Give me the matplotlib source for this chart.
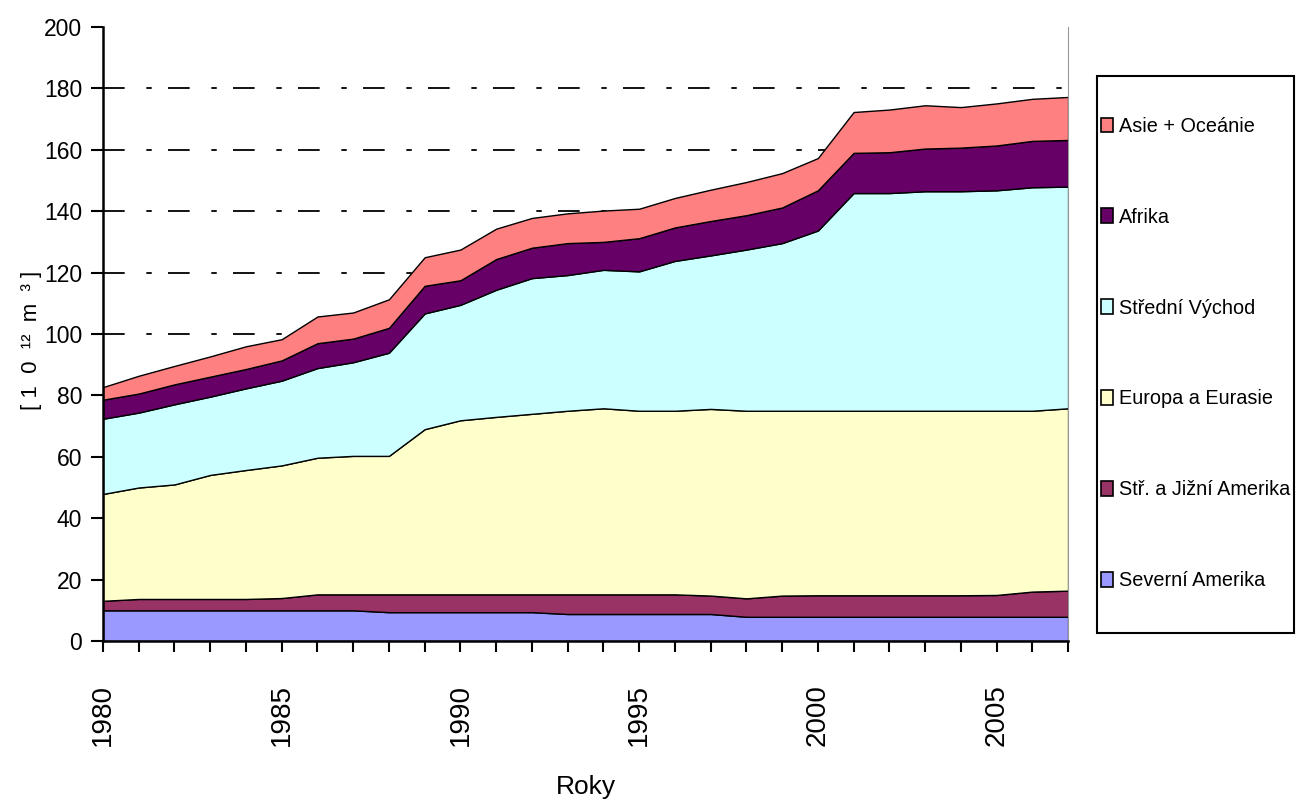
import numpy as np
import matplotlib
matplotlib.use('Agg')
import matplotlib.pyplot as plt
from matplotlib.patches import Patch, Rectangle
from matplotlib.transforms import ScaledTranslation

plt.rcParams['font.family'] = ['Liberation Sans', 'DejaVu Sans']

years = list(range(1980, 2008))

# hodnoty [10^12 m^3]
severni_amerika = [10.0, 10.0, 10.0, 10.0, 10.0, 10.0, 10.0, 10.0, 9.4, 9.4,
                   9.4, 9.4, 9.4, 8.8, 8.8, 8.8, 8.8, 8.8, 7.9, 7.9,
                   7.9, 7.9, 7.9, 7.9, 7.9, 7.9, 7.9, 7.9]
jizni_amerika = [3.1, 3.7, 3.7, 3.7, 3.7, 4.0, 5.2, 5.2, 5.8, 5.8,
                 5.8, 5.8, 5.8, 6.4, 6.4, 6.4, 6.4, 6.0, 6.0, 6.9,
                 7.0, 7.0, 7.0, 7.0, 7.0, 7.1, 8.2, 8.5]
europa = [34.8, 36.3, 37.3, 40.4, 42.0, 43.2, 44.5, 45.1, 45.1, 53.8,
          56.7, 57.8, 58.8, 59.8, 60.6, 59.8, 59.8, 60.8, 61.1, 60.2,
          60.1, 60.1, 60.1, 60.1, 60.1, 60.0, 58.9, 59.4]
stredni_vychod = [24.5, 24.4, 26.1, 25.5, 26.6, 27.6, 29.2, 30.5, 33.6, 37.7,
                  37.6, 41.4, 44.2, 44.2, 45.1, 45.4, 48.8, 50.0, 52.5, 54.6,
                  58.7, 70.9, 70.9, 71.5, 71.5, 71.8, 72.8, 72.2]
afrika = [6.2, 6.2, 6.5, 6.5, 6.3, 6.6, 8.1, 7.7, 8.1, 9.0,
          8.0, 10.0, 9.9, 10.4, 9.1, 10.8, 10.9, 11.2, 11.2, 11.6,
          13.1, 13.1, 13.3, 13.9, 14.2, 14.6, 15.1, 15.2]
asie = [4.1, 5.8, 6.0, 6.6, 7.4, 6.9, 8.7, 8.5, 9.3, 9.3,
        10.0, 9.9, 9.7, 9.7, 10.2, 9.6, 9.6, 10.2, 10.8, 11.2,
        10.5, 13.3, 13.9, 14.1, 13.2, 13.7, 13.7, 14.0]

labels = ['Severní Amerika', 'Stř. a Jižní Amerika', 'Europa a Eurasie',
          'Střední Východ', 'Afrika', 'Asie + Oceánie']
colors = ['#9999FF', '#993366', '#FFFFCC', '#CCFFFF', '#660066', '#FF8080']

fig = plt.figure(figsize=(12.97, 8.05), dpi=100)
ax = fig.add_axes([0.0794, 0.2037, 0.7441, 0.7628])

ax.stackplot(years, severni_amerika, jizni_amerika, europa, stredni_vychod,
             afrika, asie, colors=colors, edgecolor='black', linewidth=1.0)

ax.set_xlim(1980, 2007)
ax.set_ylim(0, 200)
ax.set_yticks(range(0, 201, 20))
ax.set_xticks(years)
ax.set_xticklabels([str(y) if y % 5 == 0 else '' for y in years],
                   rotation=90, fontsize=20)
for lab in ax.get_xticklabels():
    lab.set_transform(lab.get_transform() + ScaledTranslation(0.09, 0, fig.dpi_scale_trans))
ax.tick_params(axis='y', labelsize=16.5, length=9, width=1.5, direction='out', pad=6)
ax.tick_params(axis='x', length=8, width=1.5, direction='out', pad=23)

ax.set_axisbelow(True)
ax.yaxis.grid(True, color='black', linewidth=1.3, linestyle=(0, (12, 12, 3, 9)))
ax.get_ygridlines()[-1].set_visible(False)

ax.spines['top'].set_visible(False)
ax.spines['right'].set_color('#999999')
ax.spines['left'].set_linewidth(1.8)
ax.spines['bottom'].set_linewidth(1.8)

ax.set_xlabel('Roky', fontsize=19)
ax.xaxis.set_label_coords(0.5, -0.218)
ax.set_ylabel('[ 1  0  ¹²  m  ³ ]', fontsize=16)
ax.yaxis.set_label_coords(-0.063, 0.49)

# rámeček legendy
fig.patches.append(Rectangle((0.846, 0.2137), 0.1518, 0.692, transform=fig.transFigure,
                             facecolor='white', edgecolor='black', linewidth=1.5, zorder=0))

handles = [Patch(facecolor=c, edgecolor='black', linewidth=1.2) for c in colors]
leg = fig.legend(handles[::-1], labels[::-1], loc='center left',
                 bbox_to_anchor=(1101 / 1297, 0.5609), borderaxespad=0, borderpad=0,
                 fontsize=14.3, labelspacing=3.62, handlelength=0.6, handleheight=0.75,
                 handletextpad=0.3, frameon=False)

fig.savefig('out.png', dpi=100)
